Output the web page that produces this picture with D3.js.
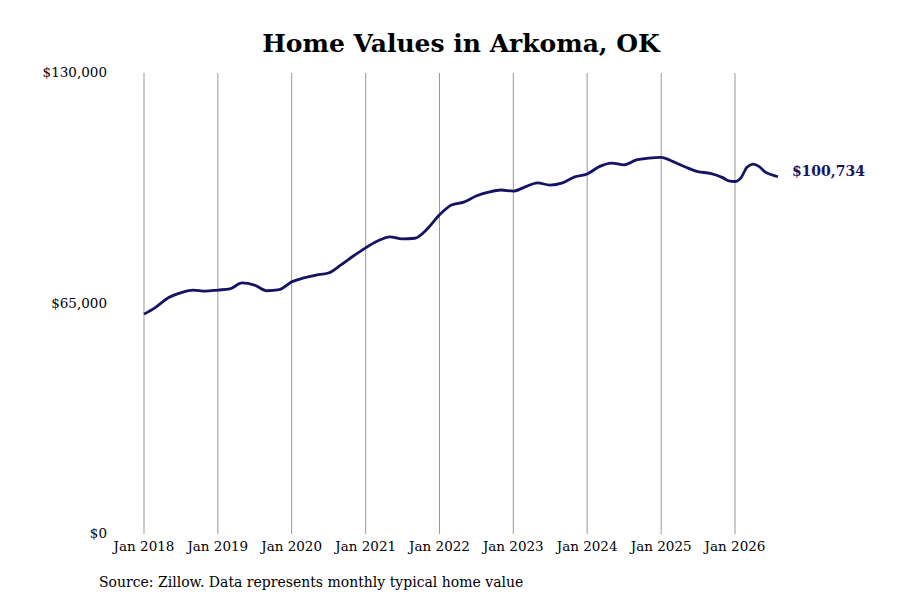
<!DOCTYPE html><html><head><meta charset="utf-8"><script src="https://d3js.org/d3.v7.min.js"></script>
<style>body{margin:0;background:#fff}svg{font-family:"DejaVu Serif",serif}</style></head><body><svg width="900" height="600"></svg>
<script>
const dates=["2018-01","2018-03","2018-05","2018-07","2018-09","2018-11","2019-01","2019-03","2019-05","2019-07","2019-09","2019-11","2020-01","2020-03","2020-05","2020-07","2020-09","2020-11","2021-01","2021-03","2021-05","2021-07","2021-09","2021-11","2022-01","2022-03","2022-05","2022-07","2022-09","2022-11","2023-01","2023-03","2023-05","2023-07","2023-09","2023-11","2024-01","2024-03","2024-05","2024-07","2024-09","2024-11","2025-01","2025-03","2025-05","2025-07","2025-09","2025-11","2025-12","2026-01","2026-02","2026-03","2026-04","2026-05","2026-06","2026-07","2026-08"];
const values=[62.0,64.0,66.6,68.0,68.8,68.5,68.8,69.1,70.8,70.2,68.6,68.9,71.1,72.2,73.0,73.6,75.9,78.4,80.7,82.6,83.8,83.2,83.4,86.0,90.0,92.8,93.6,95.3,96.4,97.0,96.7,97.9,99.0,98.4,99.0,100.7,101.5,103.6,104.6,104.1,105.5,106.0,106.2,105.0,103.5,102.2,101.7,100.5,99.6,99.4,100.6,103.4,104.3,103.6,102.0,101.3,100.734].map(v=>v*1000);
const yTicks=[0,65000,130000];
const tickYears=[2018,2019,2020,2021,2022,2023,2024,2025,2026];
const parse=d3.timeParse("%Y-%m");
const data=dates.map((d,i)=>({d:parse(d),v:values[i]}));
const svg=d3.select("svg");
const x=d3.scaleTime().domain([parse("2018-01"),parse("2026-01")]).range([144,735]);
const y=d3.scaleLinear().domain([0,130000]).range([534,73]);
svg.append("text").attr("x",461).attr("y",52).attr("text-anchor","middle").attr("font-size",25).attr("font-weight","bold").text("Home Values in Arkoma, OK");
tickYears.forEach(yr=>{const px=x(new Date(yr,0,1));
svg.append("line").attr("x1",px).attr("x2",px).attr("y1",73).attr("y2",534).attr("stroke","#999").attr("stroke-width",1);
svg.append("text").attr("x",px).attr("y",551).attr("text-anchor","middle").attr("font-size",13.5).text("Jan "+yr);});
yTicks.forEach(t=>svg.append("text").attr("x",107).attr("y",y(t)+4).attr("text-anchor","end").attr("font-size",13.5).text(d3.format("$,")(t)));
svg.append("path").datum(data).attr("fill","none").attr("stroke","#141464").attr("stroke-width",2.8)
 .attr("d",d3.line().x(d=>x(d.d)).y(d=>y(d.v)).curve(d3.curveMonotoneX));
const last=data[data.length-1];
svg.append("text").attr("x",x(last.d)+14).attr("y",y(last.v)-1).attr("font-size",14).attr("font-weight","bold").attr("fill","#141464").text(d3.format("$,")(Math.round(last.v)));
svg.append("text").attr("x",99).attr("y",587).attr("font-size",14).text("Source: Zillow. Data represents monthly typical home value");
</script></body></html>
